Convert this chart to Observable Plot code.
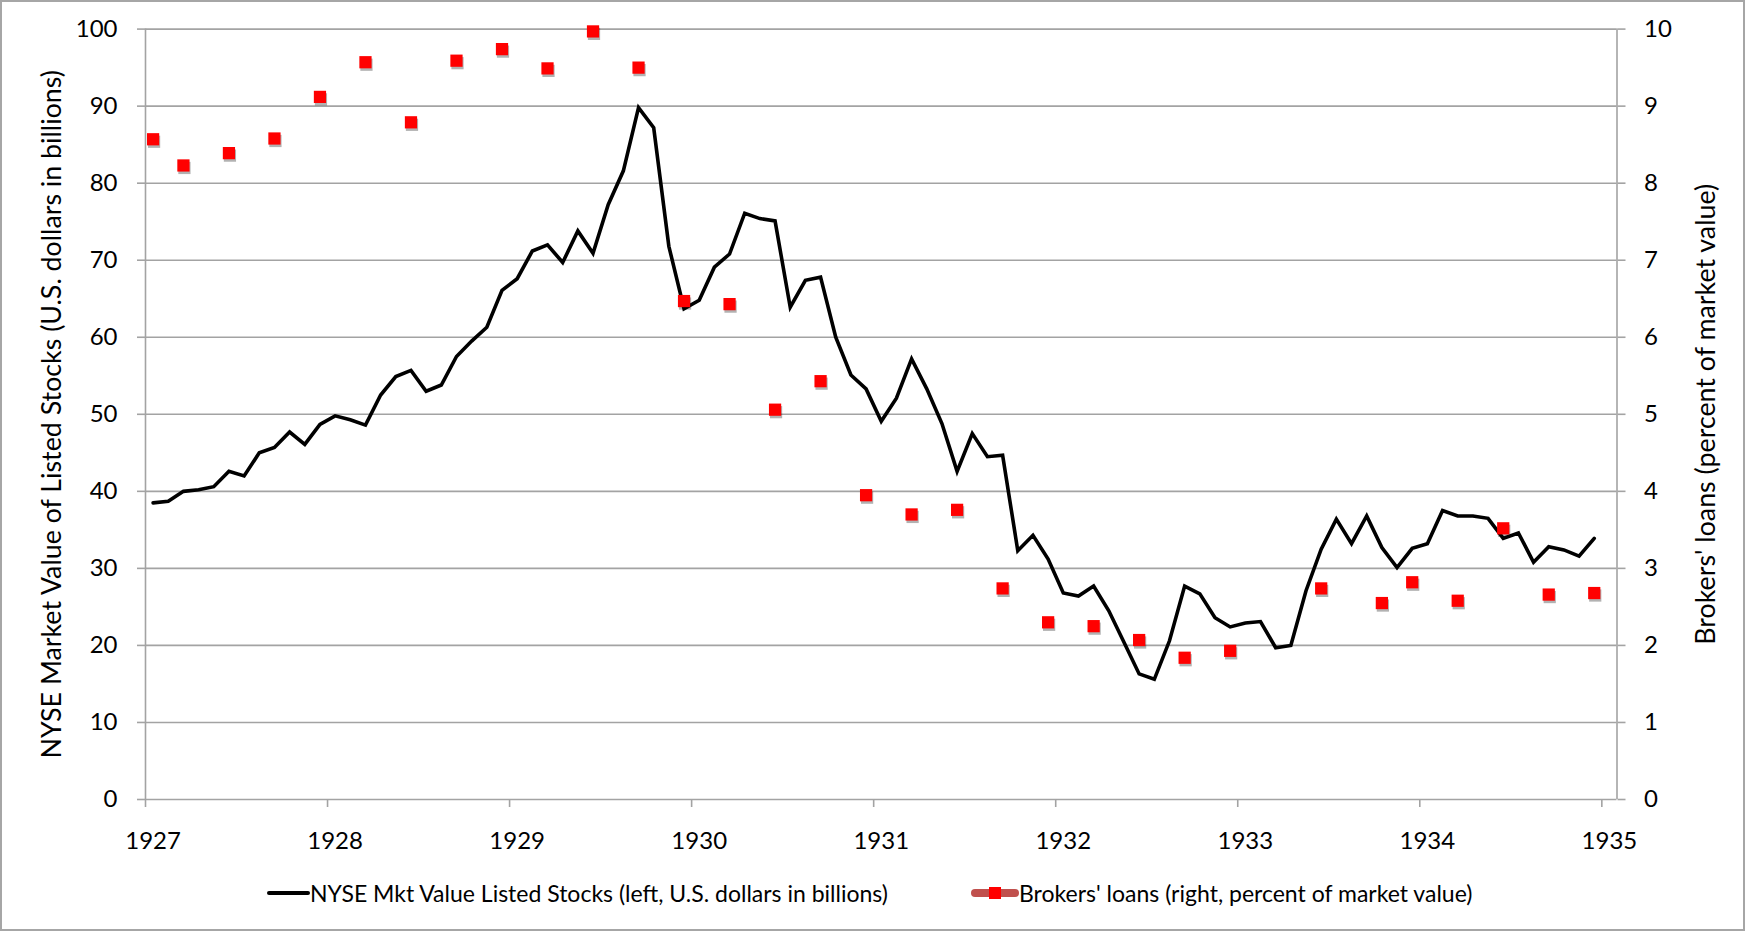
<!DOCTYPE html>
<html>
<head>
<meta charset="utf-8">
<script src="https://cdn.jsdelivr.net/npm/d3@7"></script>
<script src="https://cdn.jsdelivr.net/npm/@observablehq/plot@0.6"></script>
<style>
  html, body { margin: 0; padding: 0; background: #fff; }
  #wrap { position: relative; width: 1746px; height: 931px; font-family: Lato, sans-serif; color: #000; overflow: hidden; }
  #chart { position: absolute; left: 0; top: 0; }
  #frame { position: absolute; left: 0; top: 0; width: 1745px; height: 931px; box-sizing: border-box; border: 2px solid #a6a6a6; pointer-events: none; }
  .leg { position: absolute; top: 878px; height: 30px; display: flex; align-items: center; font-size: 23px; white-space: nowrap; }
  .leg svg { display: block; }
  #chart g[aria-label="y-axis label"] text { font-size: 26.8px; }
</style>
</head>
<body>
<div id="wrap">
  <div id="chart"></div>
  <div id="legend"></div>
  <div id="frame"></div>
</div>
<script>
// ---------------- data ----------------
const startYear = 1927;
const yearTicks = [1927, 1928, 1929, 1930, 1931, 1932, 1933, 1934, 1935];
const leftTicks = [0, 10, 20, 30, 40, 50, 60, 70, 80, 90, 100];
const rightTicks = [0, 1, 2, 3, 4, 5, 6, 7, 8, 9, 10];

// NYSE market value of listed stocks, monthly Jan 1927 – Dec 1934 (US$ billions)
const nyseValues = [
  38.5, 38.7, 40.0, 40.2, 40.6, 42.6, 42.0, 45.0, 45.7, 47.7, 46.1, 48.7,   // 1927
  49.8, 49.3, 48.6, 52.5, 54.9, 55.7, 53.0, 53.8, 57.5, 59.5, 61.3, 66.1,   // 1928
  67.6, 71.2, 72.0, 69.7, 73.8, 70.9, 77.2, 81.6, 89.8, 87.2, 71.8, 63.7,   // 1929
  64.8, 69.1, 70.8, 76.1, 75.4, 75.1, 63.9, 67.4, 67.8, 60.0, 55.1, 53.3,   // 1930
  49.1, 52.1, 57.2, 53.3, 48.8, 42.6, 47.5, 44.5, 44.7, 32.3, 34.3, 31.2,   // 1931
  26.8, 26.4, 27.7, 24.5, 20.4, 16.3, 15.6, 20.6, 27.7, 26.7, 23.6, 22.4,   // 1932
  22.9, 23.1, 19.7, 20.0, 27.1, 32.5, 36.4, 33.2, 36.8, 32.7, 30.1, 32.6,   // 1933
  33.2, 37.5, 36.8, 36.8, 36.5, 33.9, 34.6, 30.8, 32.8, 32.4, 31.6, 33.9    // 1934
];

// Brokers' loans (percent of market value)
const loanDates = [
  "1927-01", "1927-03", "1927-06", "1927-09", "1927-12",
  "1928-03", "1928-06", "1928-09", "1928-12",
  "1929-03", "1929-06", "1929-09", "1929-12",
  "1930-03", "1930-06", "1930-09", "1930-12",
  "1931-03", "1931-06", "1931-09", "1931-12",
  "1932-03", "1932-06", "1932-09", "1932-12",
  "1933-06", "1933-10", "1933-12",
  "1934-03", "1934-06", "1934-09", "1934-12"
];
const loanValues = [
  8.57, 8.23, 8.39, 8.58, 9.12,
  9.57, 8.79, 9.59, 9.74,
  9.49, 9.97, 9.50, 6.47,
  6.43, 5.06, 5.43, 3.95,
  3.70, 3.76, 2.74, 2.30,
  2.25, 2.07, 1.84, 1.93,
  2.74, 2.55, 2.82,
  2.58, 3.52, 2.66, 2.68
];

const leftTitle = "NYSE Market Value of Listed Stocks (U.S. dollars in billions)";
const rightTitle = "Brokers' loans (percent of market value)";
const seriesNames = [
  "NYSE Mkt Value Listed Stocks (left, U.S. dollars in billions)",
  "Brokers' loans (right, percent of market value)"
];

// ---------------- build ----------------
const ratio = leftTicks[leftTicks.length - 1] / rightTicks[rightTicks.length - 1];
const monthPos = (year, monthIndex) => year + (monthIndex + 0.5) / 12;   // centre of a month slot
const nyse = nyseValues.map((v, i) => ({x: monthPos(startYear + Math.floor(i / 12), i % 12), v}));
const loans = loanDates.map((d, i) => {
  const [yy, mm] = d.split("-").map(Number);
  return {x: monthPos(yy, mm - 1), v: loanValues[i]};
});
const xEnd = yearTicks[yearTicks.length - 1] + 1 / 12;
const grey = "#a3a3a3";

const chart = Plot.plot({
  width: 1746,
  height: 866,
  marginLeft: 145,
  marginRight: 129.5,
  marginTop: 28.6,
  marginBottom: 67,
  x: {type: "linear", domain: [yearTicks[0], xEnd]},
  y: {domain: [leftTicks[0], leftTicks[leftTicks.length - 1]]},
  style: {fontFamily: "Lato, sans-serif", fontSize: "24px", color: "#000", background: "none", overflow: "visible"},
  marks: [
    Plot.gridY({ticks: leftTicks.slice(1), stroke: grey, strokeOpacity: 1, strokeWidth: 1.6}),
    Plot.ruleX([yearTicks[0], xEnd], {stroke: grey, strokeWidth: 1.6}),
    Plot.ruleY([leftTicks[0]], {stroke: grey, strokeWidth: 1.6}),
    Plot.axisY({anchor: "left", ticks: leftTicks, tickFormat: d => String(d), tickSize: 8, tickPadding: 20,
      stroke: grey, strokeWidth: 1.6, fill: "#000",
      label: leftTitle, labelAnchor: "center", labelArrow: "none", labelOffset: 104}),
    Plot.axisY({anchor: "right", ticks: rightTicks.map(t => t * ratio), tickFormat: d => String(Math.round(d / ratio)),
      tickSize: 8, tickPadding: 19, stroke: grey, strokeWidth: 1.6, fill: "#000",
      label: rightTitle, labelAnchor: "center", labelArrow: "none", labelOffset: 98}),
    Plot.axisX({ticks: yearTicks, tickSize: 8, tickFormat: () => "", stroke: grey, strokeWidth: 1.6, label: null}),
    Plot.axisX({ticks: yearTicks.map(y => monthPos(y, 0)), tickFormat: d => String(Math.floor(d)), tickSize: 0,
      tickPadding: 32, fill: "#000", label: null}),
    Plot.line(nyse, {x: "x", y: "v", stroke: "#000", strokeWidth: 3.6, strokeLinejoin: "miter", strokeMiterlimit: 4}),
    Plot.dot(loans, {x: "x", y: d => d.v * ratio, symbol: "square", r: 6.9, fill: "#000", fillOpacity: 0.3,
      dx: 1, dy: 2.5, ariaLabel: "shadow"}),
    Plot.dot(loans, {x: "x", y: d => d.v * ratio, symbol: "square", r: 6.9, fill: "#ff0000", stroke: "none"})
  ]
});
chart.querySelectorAll('g[aria-label="shadow"]').forEach(g => g.style.filter = "blur(1.5px)");
document.getElementById("chart").appendChild(chart);

// ---------------- legend ----------------
const legend = document.getElementById("legend");
function legendItem(left, svgMarkup, label) {
  const div = document.createElement("div");
  div.className = "leg";
  div.style.left = left + "px";
  div.innerHTML = svgMarkup + "<span>" + label + "</span>";
  legend.appendChild(div);
}
legendItem(267,
  '<svg width="43" height="30"><line x1="2" y1="15" x2="41" y2="15" stroke="#000" stroke-width="4" stroke-linecap="round"/></svg>',
  seriesNames[0]);
legendItem(971,
  '<svg width="48" height="30"><line x1="4" y1="15" x2="44" y2="15" stroke="#c0504d" stroke-width="8" stroke-linecap="round"/><rect x="18" y="9" width="12" height="12" fill="#ff0000"/></svg>',
  seriesNames[1]);
</script>
</body>
</html>
